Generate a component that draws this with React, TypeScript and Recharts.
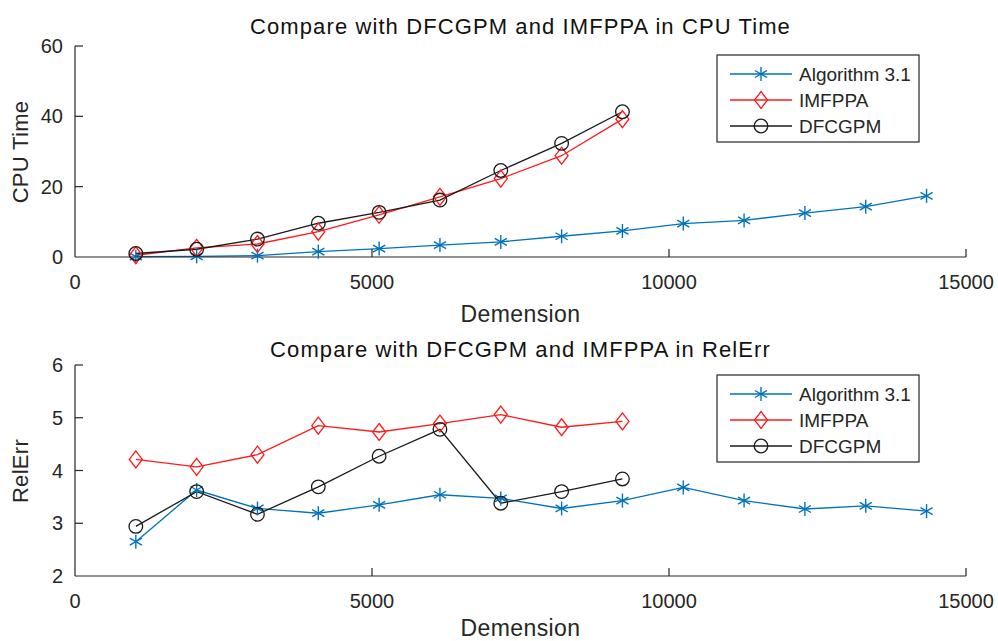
import React from 'react';
import { LineChart, Line, XAxis, YAxis } from 'recharts';

const dims = [1024, 2048, 3072, 4096, 5120, 6144, 7168, 8192, 9216, 10240, 11264, 12288, 13312, 14336];

const cpuAlg = [0.1, 0.2, 0.4, 1.5, 2.4, 3.4, 4.3, 5.9, 7.4, 9.5, 10.4, 12.5, 14.3, 17.4];
const cpuImf = [0.5, 2.6, 3.7, 7.2, 12.0, 17.1, 22.3, 28.8, 39.2];
const cpuDfc = [1.0, 2.2, 5.1, 9.6, 12.7, 16.2, 24.6, 32.3, 41.3];

const relAlg = [2.65, 3.63, 3.28, 3.19, 3.35, 3.54, 3.47, 3.28, 3.43, 3.68, 3.43, 3.27, 3.33, 3.23];
const relImf = [4.21, 4.07, 4.30, 4.85, 4.73, 4.89, 5.06, 4.82, 4.93];
const relDfc = [2.94, 3.60, 3.17, 3.69, 4.27, 4.78, 3.38, 3.60, 3.84];

const xTicks = [0, 5000, 10000, 15000];
const cpuTicks = [0, 20, 40, 60];
const relTicks = [2, 3, 4, 5, 6];

const seriesNames = ['Algorithm 3.1', 'IMFPPA', 'DFCGPM'];
const titles = ['Compare with DFCGPM and IMFPPA in CPU Time', 'Compare with DFCGPM and IMFPPA in RelErr'];
const yLabels = ['CPU Time', 'RelErr'];
const xLabel = 'Demension';

const BLUE = '#0072BD';
const RED = '#FF1A1A';
const BLACK = '#1a1a1a';
const AX = '#262626';
const FONT = '"Liberation Sans", Arial, Helvetica, sans-serif';

const build = (a: number[], b: number[], c: number[]) =>
  dims.map((d, i) => ({ x: d, alg: a[i], imf: b[i], dfc: c[i] }));

const cpuData = build(cpuAlg, cpuImf, cpuDfc);
const relData = build(relAlg, relImf, relDfc);

const Asterisk = ({ cx, cy, color, r = 7 }: any) => {
  const dx = r * Math.cos(Math.PI / 6);
  const dy = r * Math.sin(Math.PI / 6);
  return (
    <g stroke={color} strokeWidth={1.4} fill="none">
      <line x1={cx} y1={cy - r} x2={cx} y2={cy + r} />
      <line x1={cx - dx} y1={cy - dy} x2={cx + dx} y2={cy + dy} />
      <line x1={cx - dx} y1={cy + dy} x2={cx + dx} y2={cy - dy} />
    </g>
  );
};
const Diamond = ({ cx, cy, color }: any) => (
  <path d={`M${cx},${cy - 8.5} L${cx + 6.5},${cy} L${cx},${cy + 8.5} L${cx - 6.5},${cy} Z`} stroke={color} strokeWidth={1.3} fill="none" />
);
const Circle = ({ cx, cy, color }: any) => <circle cx={cx} cy={cy} r={6.8} stroke={color} strokeWidth={1.3} fill="none" />;

const markers = [Asterisk, Diamond, Circle];
const colors = [BLUE, RED, BLACK];

const dotFn = (k: number) => (props: any) => {
  const { cx, cy, value, index } = props;
  if (value === undefined || value === null || cx == null || cy == null) return <g key={`e${k}-${index}`} />;
  const M = markers[k];
  return <g key={`d${k}-${index}`}><M cx={cx} cy={cy} color={colors[k]} /></g>;
};

const XTick = (props: any) => {
  const { x, y, payload } = props;
  return (
    <g>
      {payload.value !== 0 && <line x1={x} y1={y} x2={x} y2={y - 8} stroke={AX} strokeWidth={1.2} />}
      <text x={x} y={y + 32} textAnchor="middle" fill={AX} fontSize={20} fontFamily={FONT}>{payload.value}</text>
    </g>
  );
};
const YTick = (props: any) => {
  const { x, y, payload, index } = props;
  return (
    <g>
      {index !== 0 && <line x1={x} y1={y} x2={x + 8} y2={y} stroke={AX} strokeWidth={1.2} />}
      <text x={x - 12} y={y + 7} textAnchor="end" fill={AX} fontSize={20} fontFamily={FONT}>{payload.value}</text>
    </g>
  );
};

const LegendBox = ({ top }: { top: number }) => (
  <svg width={210} height={95} style={{ position: 'absolute', left: 714, top: top - 3 }}>
    <rect x={3} y={3} width={202} height={87} fill="#fff" stroke={AX} strokeWidth={1.2} />
    {seriesNames.map((n, i) => {
      const cy = 22 + i * 26;
      const M = markers[i];
      return (
        <g key={n}>
          <line x1={16} y1={cy} x2={78} y2={cy} stroke={colors[i]} strokeWidth={1.3} />
          <M cx={47} cy={cy} color={colors[i]} />
          <text x={85} y={cy + 7} fontSize={19} fill={AX} fontFamily={FONT}>{n}</text>
        </g>
      );
    })}
  </svg>
);

const Panel = ({ data, top, yTicks, domain, title, yLabel, legendTop, plotTop, plotBottom, titleTop, xLabelTop }: any) => {
  const h = 320;
  return (
    <div style={{ position: 'absolute', left: 0, top, width: 998, height: h }}>
      <LineChart width={998} height={h} data={data} margin={{ top: plotTop, right: 32, left: 15, bottom: h - plotBottom - 40 }}>
        <XAxis dataKey="x" type="number" domain={[0, 15000]} ticks={xTicks} height={40} tickSize={0} tickMargin={0}
          tick={<XTick />} axisLine={{ stroke: AX, strokeWidth: 1.2 }} tickLine={false} />
        <YAxis type="number" domain={domain} ticks={yTicks} width={60} tickSize={0} tickMargin={0}
          tick={<YTick />} axisLine={{ stroke: AX, strokeWidth: 1.2 }} tickLine={false} interval={0} />
        <Line dataKey="alg" stroke={BLUE} strokeWidth={1.3} dot={dotFn(0)} isAnimationActive={false} />
        <Line dataKey="imf" stroke={RED} strokeWidth={1.3} dot={dotFn(1)} isAnimationActive={false} />
        <Line dataKey="dfc" stroke={BLACK} strokeWidth={1.3} dot={dotFn(2)} isAnimationActive={false} />
      </LineChart>
      <div style={{ position: 'absolute', left: 0, width: 1041, top: titleTop, textAlign: 'center', fontFamily: FONT, fontSize: 22, letterSpacing: '1.1px', color: '#111', whiteSpace: 'nowrap', lineHeight: '24px' }}>{title}</div>
      <div style={{ position: 'absolute', left: 0, width: 1041, top: xLabelTop, textAlign: 'center', fontFamily: FONT, fontSize: 23, letterSpacing: '0.4px', color: AX, lineHeight: '24px' }}>{xLabel}</div>
      <div style={{ position: 'absolute', left: 21, top: (plotTop + plotBottom) / 2, transform: 'translate(-50%, -50%) rotate(-90deg)', fontFamily: FONT, fontSize: 22, letterSpacing: '0.3px', color: AX, whiteSpace: 'nowrap', lineHeight: '24px' }}>{yLabel}</div>
      <LegendBox top={legendTop} />
    </div>
  );
};

export default function App() {
  return (
    <div style={{ position: 'absolute', left: 0, top: 0, width: 998, height: 641, background: '#fff', overflow: 'hidden' }}>
      <Panel data={cpuData} top={0} yTicks={cpuTicks} domain={[0, 60]} title={titles[0]} yLabel={yLabels[0]} legendTop={55} plotTop={46} plotBottom={257} titleTop={15} xLabelTop={302} />
      <Panel data={relData} top={320} yTicks={relTicks} domain={[2, 6]} title={titles[1]} yLabel={yLabels[1]} legendTop={55} plotTop={45} plotBottom={256} titleTop={18} xLabelTop={296} />
    </div>
  );
}
